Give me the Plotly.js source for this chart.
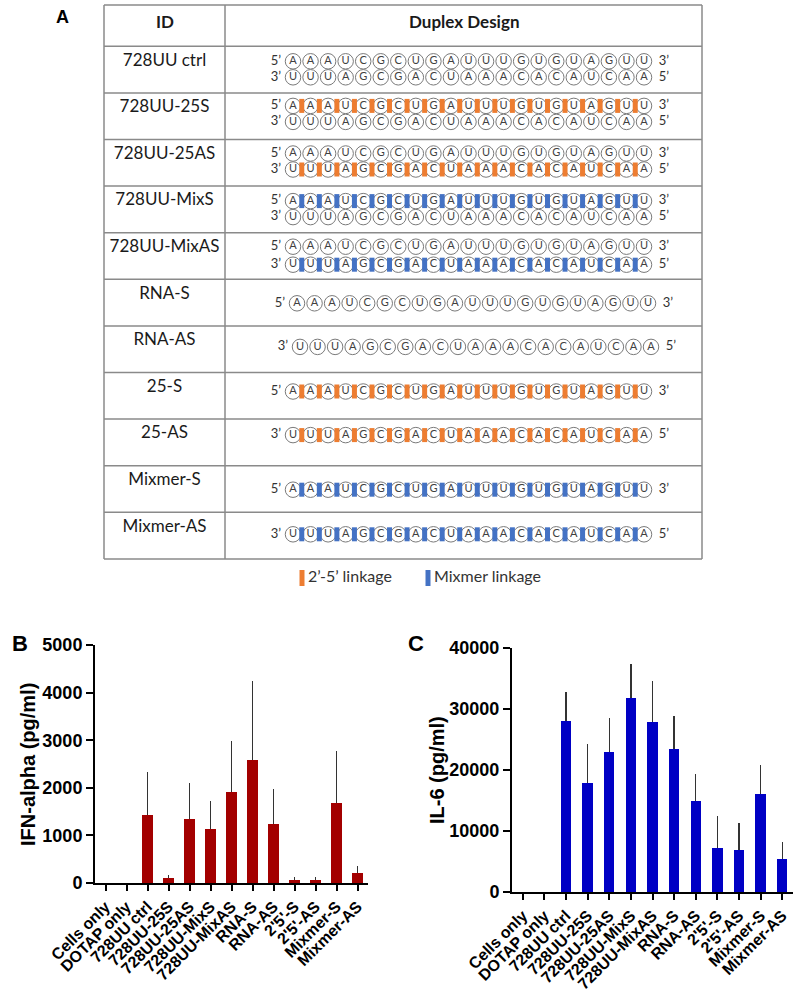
<!DOCTYPE html>
<html>
<head>
<meta charset="utf-8">
<script src="https://cdn.plot.ly/plotly-3.0.1.min.js"></script>
<style>
  body { margin: 0; background: #fff; }
  #fig { width: 796px; height: 994px; }
</style>
</head>
<body>
<div id="fig"></div>
<script>
// ---- Panel A: duplex designs ----
const rowIds = ['728UU ctrl', '728UU-25S', '728UU-25AS', '728UU-MixS', '728UU-MixAS',
  'RNA-S', 'RNA-AS', '25-S', '25-AS', 'Mixmer-S', 'Mixmer-AS'];
const senseSeq = 'AAAUCGCUGAUUUGUGUAGUU';      // drawn 5' -> 3'
const antisenseSeq = 'UUUAGCGACUAAACACAUCAA';  // drawn 3' -> 5'
// strands per row: [strand, linkage]  ('' = none, '25' = 2'-5', 'mix' = mixmer)
const rowStrands = [
  [['S', ''], ['AS', '']],
  [['S', '25'], ['AS', '']],
  [['S', ''], ['AS', '25']],
  [['S', 'mix'], ['AS', '']],
  [['S', ''], ['AS', 'mix']],
  [['S', '']],
  [['AS', '']],
  [['S', '25']],
  [['AS', '25']],
  [['S', 'mix']],
  [['AS', 'mix']]
];
const legendLabels = ['2\u2019-5\u2019 linkage', 'Mixmer linkage'];

// ---- Panels B and C ----
const groups = ['Cells only', 'DOTAP only', '728UU ctrl', '728UU-25S', '728UU-25AS', '728UU-MixS',
  '728UU-MixAS', 'RNA-S', 'RNA-AS', '2\'5\'-S', '2\'5\'-AS', 'Mixmer-S', 'Mixmer-AS'];
const ifnAlpha = [0, 0, 1430, 100, 1345, 1135, 1910, 2585, 1240, 70, 70, 1680, 210];
const ifnAlphaErr = [0, 0, 900, 70, 755, 585, 1070, 1660, 735, 55, 60, 1090, 150];
const il6 = [0, 0, 28000, 17900, 23000, 31800, 27800, 23500, 14900, 7200, 6900, 16000, 5400];
const il6Err = [0, 0, 4800, 6300, 5500, 5500, 6800, 5400, 4400, 5300, 4400, 4800, 2800];

// ---- geometry of the table (pixel units of the table axes) ----
const tableLeft = 104, colDiv = 225, tableRight = 702, tableTop = 5;
const headerBottom = 46.3, rowH = 46.6;
const seqX0 = 293, seqStep = 17.55;
const strandOffsets = [[15, 31], [13, 29], [14, 30], [15, 31], [14, 32],
  [24], [21], [19], [16], [24], [22]];
const rowShift = [0, 0, 0, 0, 0, 4, 7, 0, 0, 0, 0];
const linkColor = { '25': '#ED7D31', 'mix': '#4472C4' };

function rowTop(r) { return headerBottom + r * rowH; }

const circX = [], circY = [], circT = [];
const endX = [], endY = [], endT = [];
const bars = { '25': { x: [], y: [] }, 'mix': { x: [], y: [] } };

rowStrands.forEach((strands, r) => {
  strands.forEach(([strand, link], s) => {
    const seq = strand === 'S' ? senseSeq : antisenseSeq;
    const y = rowTop(r) + strandOffsets[r][s];
    const x0 = seqX0 + rowShift[r];
    for (let i = 0; i < seq.length; i++) {
      circX.push(x0 + i * seqStep);
      circY.push(y);
      circT.push(seq[i]);
    }
    const lastX = x0 + (seq.length - 1) * seqStep;
    endX.push(x0 - 17, lastX + 20);
    endY.push(y, y);
    endT.push(strand === 'S' ? '5\u2019' : '3\u2019', strand === 'S' ? '3\u2019' : '5\u2019');
    if (link) {
      for (let i = 0; i < seq.length - 1; i++) {
        const bx = x0 + (i + 0.5) * seqStep;
        bars[link].x.push(bx, bx, null);
        bars[link].y.push(y - 7, y + 7, null);
      }
    }
  });
});

const tableFont = 'Lato, "Open Sans", sans-serif';
const traces = [];

// nucleotide circles
traces.push({
  type: 'scatter', mode: 'markers+text', xaxis: 'x3', yaxis: 'y3',
  x: circX, y: circY, text: circT, textposition: 'middle center',
  textfont: { family: tableFont, size: 11, color: '#404040' },
  marker: { symbol: 'circle', size: 15.5, color: '#fff', line: { color: '#7a7a7a', width: 1 } },
  cliponaxis: false, hoverinfo: 'skip'
});
// linkage bars
['25', 'mix'].forEach(k => {
  traces.push({
    type: 'scatter', mode: 'lines', xaxis: 'x3', yaxis: 'y3',
    x: bars[k].x, y: bars[k].y,
    line: { color: linkColor[k], width: 5 },
    cliponaxis: false, hoverinfo: 'skip'
  });
});
// 5'/3' end labels
traces.push({
  type: 'scatter', mode: 'text', xaxis: 'x3', yaxis: 'y3',
  x: endX, y: endY, text: endT, textposition: 'middle center',
  textfont: { family: tableFont, size: 13, color: '#333' },
  cliponaxis: false, hoverinfo: 'skip'
});
// ID column
traces.push({
  type: 'scatter', mode: 'text', xaxis: 'x3', yaxis: 'y3',
  x: rowIds.map(() => (tableLeft + colDiv) / 2),
  y: rowIds.map((_, r) => rowTop(r) + 15),
  text: rowIds, textposition: 'middle center',
  textfont: { family: tableFont, size: 17, color: '#1a1a1a' },
  cliponaxis: false, hoverinfo: 'skip'
});
// legend under table
traces.push({
  type: 'scatter', mode: 'lines', xaxis: 'x3', yaxis: 'y3',
  x: [302, 302], y: [570, 586], line: { color: linkColor['25'], width: 5 }, hoverinfo: 'skip'
});
traces.push({
  type: 'scatter', mode: 'lines', xaxis: 'x3', yaxis: 'y3',
  x: [428, 428], y: [570, 586], line: { color: linkColor['mix'], width: 5 }, hoverinfo: 'skip'
});
traces.push({
  type: 'scatter', mode: 'text', xaxis: 'x3', yaxis: 'y3',
  x: [308, 434], y: [578, 578], text: legendLabels, textposition: 'middle right',
  textfont: { family: tableFont, size: 16, color: '#333' },
  cliponaxis: false, hoverinfo: 'skip'
});

// bar charts
traces.push({
  type: 'bar', xaxis: 'x', yaxis: 'y', x: groups, y: ifnAlpha, width: 0.48,
  marker: { color: '#A30000', line: { width: 0 } },
  error_y: { type: 'data', symmetric: false, array: ifnAlphaErr, arrayminus: groups.map(() => 0),
    color: '#333', thickness: 1.3, width: 0 },
  hoverinfo: 'x+y'
});
traces.push({
  type: 'bar', xaxis: 'x2', yaxis: 'y2', x: groups, y: il6, width: 0.48,
  marker: { color: '#0000C4', line: { width: 0 } },
  error_y: { type: 'data', symmetric: false, array: il6Err, arrayminus: groups.map(() => 0),
    color: '#333', thickness: 1.3, width: 0 },
  hoverinfo: 'x+y'
});

// table lines
const gridColor = '#8a8a8a';
const shapes = [];
function hline(y) {
  shapes.push({ type: 'line', xref: 'x3', yref: 'y3', x0: tableLeft, x1: tableRight, y0: y, y1: y,
    line: { color: gridColor, width: 1.5 } });
}
function vline(x) {
  shapes.push({ type: 'line', xref: 'x3', yref: 'y3', x0: x, x1: x, y0: tableTop, y1: rowTop(rowIds.length),
    line: { color: gridColor, width: 1.5 } });
}
hline(tableTop);
for (let r = 0; r <= rowIds.length; r++) hline(rowTop(r));
[tableLeft, colDiv, tableRight].forEach(vline);

const W = 796, H = 994;
const axisFont = 'Liberation Sans, Arial, sans-serif';
function barX(left, right) {
  return {
    domain: [left / W, right / W], type: 'category', range: [-0.5, 12.5],
    showline: true, linecolor: '#000', linewidth: 2, ticks: 'outside', ticklen: 6, tickwidth: 2,
    tickcolor: '#000', tickangle: -45, showgrid: false, zeroline: false, fixedrange: true,
    tickfont: { family: axisFont, size: 16, weight: 'bold', color: '#000' }
  };
}
function barY(bottom, top, max, step) {
  const vals = [];
  for (let v = 0; v <= max; v += step) vals.push(v);
  return {
    domain: [(H - bottom) / H, (H - top) / H], range: [0, max], tickvals: vals, tickformat: 'd',
    showline: true, linecolor: '#000', linewidth: 2, ticks: 'outside', ticklen: 7, tickwidth: 2,
    tickcolor: '#000', showgrid: false, zeroline: false, fixedrange: true,
    tickfont: { family: axisFont, size: 18, weight: 'bold', color: '#000' }
  };
}

const xB = barX(95, 368); xB.anchor = 'y';
const yB = barY(883, 645, 5000, 1000); yB.anchor = 'x';
const xC = barX(512, 793); xC.anchor = 'y2';
const yC = barY(892, 648, 40000, 10000); yC.anchor = 'x2';

function label(text, px, py, size, angle) {
  return { text: text, xref: 'paper', yref: 'paper', x: px / W, y: (H - py) / H,
    showarrow: false, textangle: angle || 0, xanchor: 'center', yanchor: 'middle',
    font: { family: axisFont, size: size, weight: 'bold', color: '#000' } };
}

const layout = {
  width: W, height: H, margin: { l: 0, r: 0, t: 0, b: 0 },
  paper_bgcolor: '#fff', plot_bgcolor: 'rgba(0,0,0,0)', showlegend: false,
  bargap: 0,
  xaxis: xB, yaxis: yB, xaxis2: xC, yaxis2: yC,
  xaxis3: { domain: [0, 1], range: [0, W], anchor: 'y3', visible: false, fixedrange: true },
  yaxis3: { domain: [(H - 600) / H, 1], range: [600, 0], anchor: 'x3', visible: false, fixedrange: true },
  shapes: shapes,
  annotations: [
    { text: 'ID', xref: 'x3', yref: 'y3', x: (tableLeft + colDiv) / 2, y: 21, showarrow: false,
      font: { family: tableFont, size: 17, weight: 'bold', color: '#1a1a1a' } },
    { text: 'Duplex Design', xref: 'x3', yref: 'y3', x: (colDiv + tableRight) / 2, y: 21, showarrow: false,
      font: { family: tableFont, size: 17, weight: 'bold', color: '#1a1a1a' } },
    label('A', 62, 17, 18),
    label('B', 20, 643, 22),
    label('C', 416, 643, 22),
    label('IFN-alpha (pg/ml)', 28, 765, 20, -90),
    label('IL-6 (pg/ml)', 437, 770, 20, -90)
  ]
};

Plotly.newPlot('fig', traces, layout, { displayModeBar: false, staticPlot: true });
</script>
</body>
</html>
